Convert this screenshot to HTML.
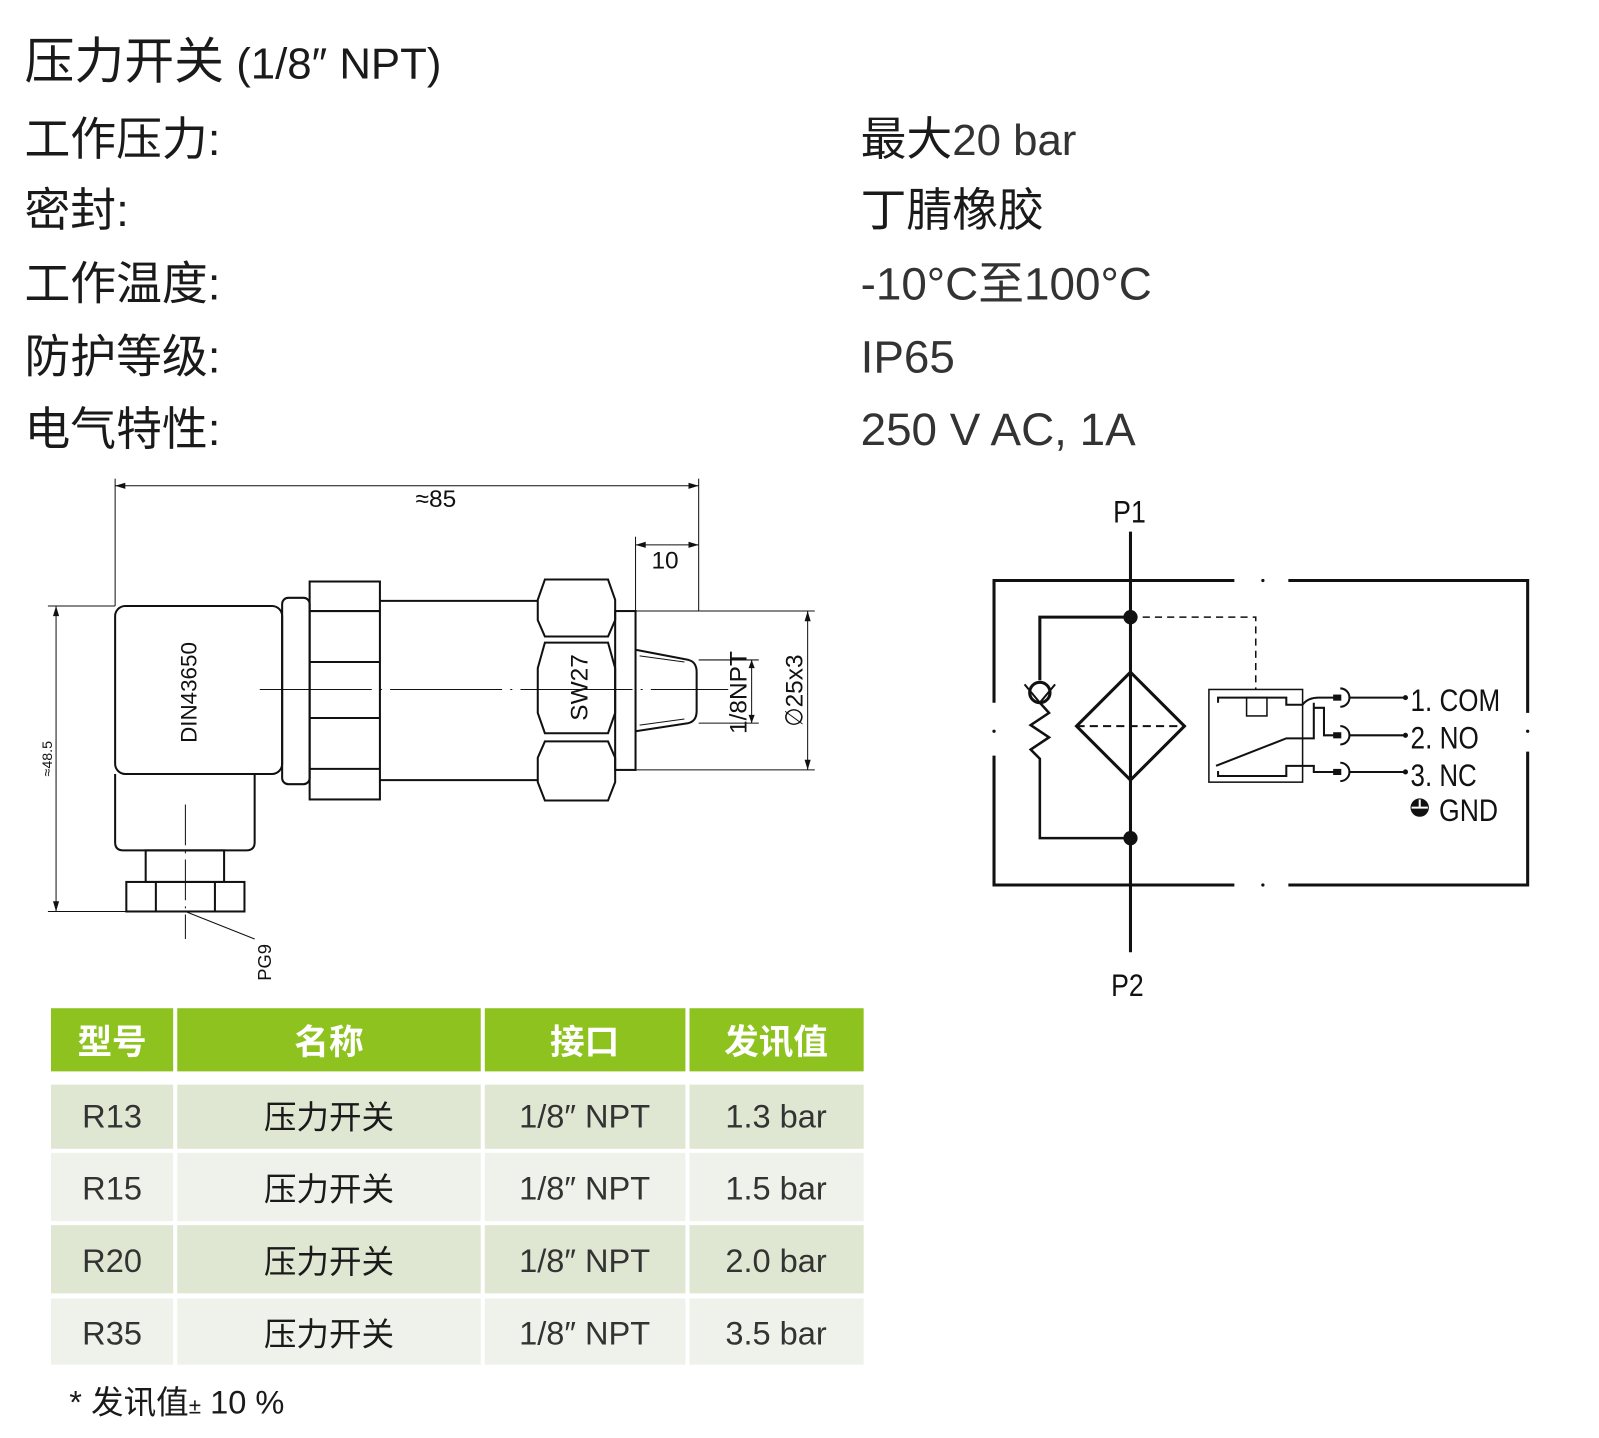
<!DOCTYPE html>
<html><head><meta charset="utf-8"><style>
html,body{margin:0;padding:0;background:#fff;width:1599px;height:1438px;overflow:hidden}
svg{display:block}
.t{font-family:"Liberation Sans","Noto Sans CJK SC",sans-serif;fill:#1a1a1a}
.d{font-family:"Liberation Sans Narrow","Liberation Sans","DejaVu Sans Condensed",sans-serif;fill:#111}
</style></head><body>
<svg width="1599" height="1438" viewBox="0 0 1570 1412" xmlns="http://www.w3.org/2000/svg">
<g class="t" font-size="45">
<text x="24" y="77" font-size="49">压力开关<tspan font-size="43"> (1/8″ NPT)</tspan></text>
<text x="24" y="152">工作压力:</text>
<text x="24" y="222">密封:</text>
<text x="24" y="294">工作温度:</text>
<text x="24" y="366">防护等级:</text>
<text x="24" y="437">电气特性:</text>
<text x="845" y="152">最大<tspan font-size="43" fill="#333">20 bar</tspan></text>
<text x="845" y="222">丁腈橡胶</text>
<text x="845" y="294" fill="#333">-10°C至100°C</text>
<text x="845" y="366" fill="#333">IP65</text>
<text x="845" y="437" fill="#333">250 V AC, 1A</text>
</g>

<g fill="none" stroke="#111" stroke-width="2">
<g stroke-width="1">
<line x1="113" y1="470" x2="113" y2="595"/><line x1="686" y1="470" x2="686" y2="600"/>
<line x1="113" y1="477" x2="686" y2="477"/>
<line x1="624" y1="527" x2="624" y2="600"/><line x1="624" y1="535" x2="686" y2="535"/>
<line x1="47" y1="595" x2="113" y2="595"/><line x1="47" y1="895" x2="124" y2="895"/>
<line x1="55" y1="595" x2="55" y2="895"/>
<line x1="686" y1="648" x2="745" y2="648"/><line x1="686" y1="710" x2="745" y2="710"/>
<line x1="738" y1="648" x2="738" y2="710"/>
<line x1="624" y1="600" x2="800" y2="600"/><line x1="624" y1="756" x2="800" y2="756"/>
<line x1="793" y1="600" x2="793" y2="756"/>
<line x1="255" y1="677" x2="715" y2="677" stroke-dasharray="110 8 2 8"/>
<line x1="182" y1="790" x2="182" y2="922" stroke-dasharray="40 6 2 6"/>
<line x1="182" y1="895" x2="250" y2="922"/>
</g>
<g fill="#111" stroke="none">
<path d="M113 477l10-3v6z"/><path d="M686 477l-10-3v6z"/>
<path d="M624 535l10-3v6z"/><path d="M686 535l-10-3v6z"/>
<path d="M55 595l-3 10h6z"/><path d="M55 895l-3-10h6z"/>
<path d="M738 648l-3 8h6z"/><path d="M738 710l-3-8h6z"/>
<path d="M793 600l-3 10h6z"/><path d="M793 756l-3-10h6z"/>
</g>
<rect x="113" y="595" width="164" height="165" rx="10"/>
<path d="M113 760v67q0 8 8 8h121q8 0 8-8v-67"/>
<rect x="143" y="835" width="77" height="31"/>
<rect x="124" y="866" width="116" height="29"/>
<line x1="153" y1="866" x2="153" y2="895"/><line x1="211" y1="866" x2="211" y2="895"/>
<rect x="277" y="587" width="27" height="183" rx="6"/>
<rect x="304" y="571" width="69" height="214"/>
<line x1="304" y1="600" x2="373" y2="600"/><line x1="304" y1="650" x2="373" y2="650"/>
<line x1="304" y1="705" x2="373" y2="705"/><line x1="304" y1="755" x2="373" y2="755"/>
<line x1="373" y1="590" x2="528" y2="590"/><line x1="373" y1="766" x2="528" y2="766"/>
<path d="M535 569h62l7 20v20l-7 16h-62l-7-16v-20z"/>
<path d="M535 631h62l7 25v44l-7 20h-62l-7-20v-44z"/>
<path d="M535 728h62l7 16v24l-7 18h-62l-7-18v-24z"/>
<rect x="604" y="600" width="20" height="156"/>
<path d="M624 638L676 648Q684 650 684 660V698Q684 708 676 710L624 718"/>
<line x1="628" y1="644" x2="672" y2="650" stroke-width="1"/><line x1="628" y1="712" x2="672" y2="706" stroke-width="1"/>
</g>
<g class="d" font-size="24">
<text x="428" y="498" text-anchor="middle">≈85</text>
<text x="653" y="558" text-anchor="middle">10</text>
<text transform="translate(193,680) rotate(-90)" text-anchor="middle" font-size="22">DIN43650</text>
<text transform="translate(577,675) rotate(-90)" text-anchor="middle" font-size="24">SW27</text>
<text transform="translate(733,680) rotate(-90)" text-anchor="middle" font-size="24">1/8NPT</text>
<text transform="translate(788,678) rotate(-90)" text-anchor="middle" font-size="24">∅25x3</text>
<text transform="translate(51,745) rotate(-90)" text-anchor="middle" font-size="14">≈48.5</text>
<text transform="translate(266,945) rotate(-90)" text-anchor="middle" font-size="18">PG9</text>
</g>

<g fill="none" stroke="#111" stroke-width="3">
<line x1="1110" y1="522" x2="1110" y2="935"/>
<path d="M976 690V570H1212M1265 570H1500V700M1500 738V869H1265M1212 869H976V742"/>
<path d="M1110 606H1021V668"/>
<circle cx="1021" cy="680" r="10"/>
<path d="M1006 672L1021 690L1036 672" stroke-width="2"/>
<path d="M1021 690L1030 700L1012 712L1030 724L1012 736L1021 745V823H1110" stroke-width="2.5"/>
<path d="M1110 660L1163 713L1110 766L1057 713Z"/>
<line x1="1057" y1="713" x2="1163" y2="713" stroke-dasharray="8 5" stroke-width="2"/>
<path d="M1110 606H1233V677" stroke-width="1.5" stroke-dasharray="7 5"/>
<rect x="1187" y="677" width="92" height="91" stroke-width="1.5"/>
<path d="M1196 690V685H1263V692H1279" stroke-width="2"/>
<rect x="1224" y="685" width="20" height="18" stroke-width="1.5"/>
<path d="M1196 757V762H1263V752H1279" stroke-width="2"/>
<path d="M1194 752L1263 725H1290V690" stroke-width="2"/>
<path d="M1279 692Q1284 685 1295 685H1316M1290 695H1300V722H1316M1279 752H1290V758H1316" stroke-width="2"/>
<path d="M1316 676a9 9 0 0 1 0 18M1316 713a9 9 0 0 1 0 18M1316 749a9 9 0 0 1 0 18" stroke-width="2"/>
<line x1="1325" y1="685" x2="1380" y2="685" stroke-width="2"/><line x1="1325" y1="722" x2="1380" y2="722" stroke-width="2"/><line x1="1325" y1="758" x2="1380" y2="758" stroke-width="2"/>
</g>
<g fill="#111">
<circle cx="1110" cy="606" r="7"/><circle cx="1110" cy="823" r="7"/>
<circle cx="1240" cy="570" r="1.6"/><circle cx="1240" cy="869" r="1.6"/>
<circle cx="976" cy="718" r="1.6"/><circle cx="1500" cy="718" r="1.6"/>
<rect x="1309" y="682" width="8" height="6"/><rect x="1309" y="719" width="8" height="6"/><rect x="1309" y="755" width="8" height="6"/>
<circle cx="1380" cy="685" r="2.5"/><circle cx="1380" cy="722" r="2.5"/><circle cx="1380" cy="758" r="2.5"/>
<circle cx="1394" cy="793" r="9"/>
</g>
<path d="M1386 793h16M1394 785v8" stroke="#fff" stroke-width="2"/>
<g class="d" font-size="31">
<text x="1093" y="513" textLength="32" lengthAdjust="spacingAndGlyphs">P1</text>
<text x="1091" y="978" textLength="32" lengthAdjust="spacingAndGlyphs">P2</text>
<text x="1385" y="698" textLength="88" lengthAdjust="spacingAndGlyphs">1. COM</text>
<text x="1385" y="735" textLength="67" lengthAdjust="spacingAndGlyphs">2. NO</text>
<text x="1385" y="772" textLength="65" lengthAdjust="spacingAndGlyphs">3. NC</text>
<text x="1413" y="806" textLength="58" lengthAdjust="spacingAndGlyphs">GND</text>
</g>

<g>
<rect x="50" y="990" width="120" height="62" fill="#8dc21f"/>
<rect x="174" y="990" width="298" height="62" fill="#8dc21f"/>
<rect x="476" y="990" width="197" height="62" fill="#8dc21f"/>
<rect x="677" y="990" width="171" height="62" fill="#8dc21f"/>
<g fill="#dfe7d3">
<rect x="50" y="1065" width="120" height="63"/><rect x="174" y="1065" width="298" height="63"/><rect x="476" y="1065" width="197" height="63"/><rect x="677" y="1065" width="171" height="63"/>
<rect x="50" y="1203" width="120" height="67"/><rect x="174" y="1203" width="298" height="67"/><rect x="476" y="1203" width="197" height="67"/><rect x="677" y="1203" width="171" height="67"/>
</g>
<g fill="#eff2ea">
<rect x="50" y="1132" width="120" height="67"/><rect x="174" y="1132" width="298" height="67"/><rect x="476" y="1132" width="197" height="67"/><rect x="677" y="1132" width="171" height="67"/>
<rect x="50" y="1275" width="120" height="65"/><rect x="174" y="1275" width="298" height="65"/><rect x="476" y="1275" width="197" height="65"/><rect x="677" y="1275" width="171" height="65"/>
</g>
<g class="t" font-size="34" font-weight="bold" text-anchor="middle" style="fill:#fff">
<text x="110" y="1035">型号</text><text x="323" y="1035">名称</text><text x="574" y="1035">接口</text><text x="762" y="1035">发讯值</text>
</g>
<g class="t" font-size="32" text-anchor="middle">
<text x="110" y="1107" fill="#333">R13</text><text x="323" y="1108">压力开关</text><text x="574" y="1107" fill="#333">1/8″ NPT</text><text x="762" y="1107" fill="#333">1.3 bar</text>
<text x="110" y="1178" fill="#333">R15</text><text x="323" y="1179">压力开关</text><text x="574" y="1178" fill="#333">1/8″ NPT</text><text x="762" y="1178" fill="#333">1.5 bar</text>
<text x="110" y="1249" fill="#333">R20</text><text x="323" y="1250">压力开关</text><text x="574" y="1249" fill="#333">1/8″ NPT</text><text x="762" y="1249" fill="#333">2.0 bar</text>
<text x="110" y="1320" fill="#333">R35</text><text x="323" y="1321">压力开关</text><text x="574" y="1320" fill="#333">1/8″ NPT</text><text x="762" y="1320" fill="#333">3.5 bar</text>
</g>
<text class="t" x="68" y="1388" font-size="32">* 发讯值<tspan font-size="22">±</tspan> 10 %</text>
</g>
</svg>
</body></html>
